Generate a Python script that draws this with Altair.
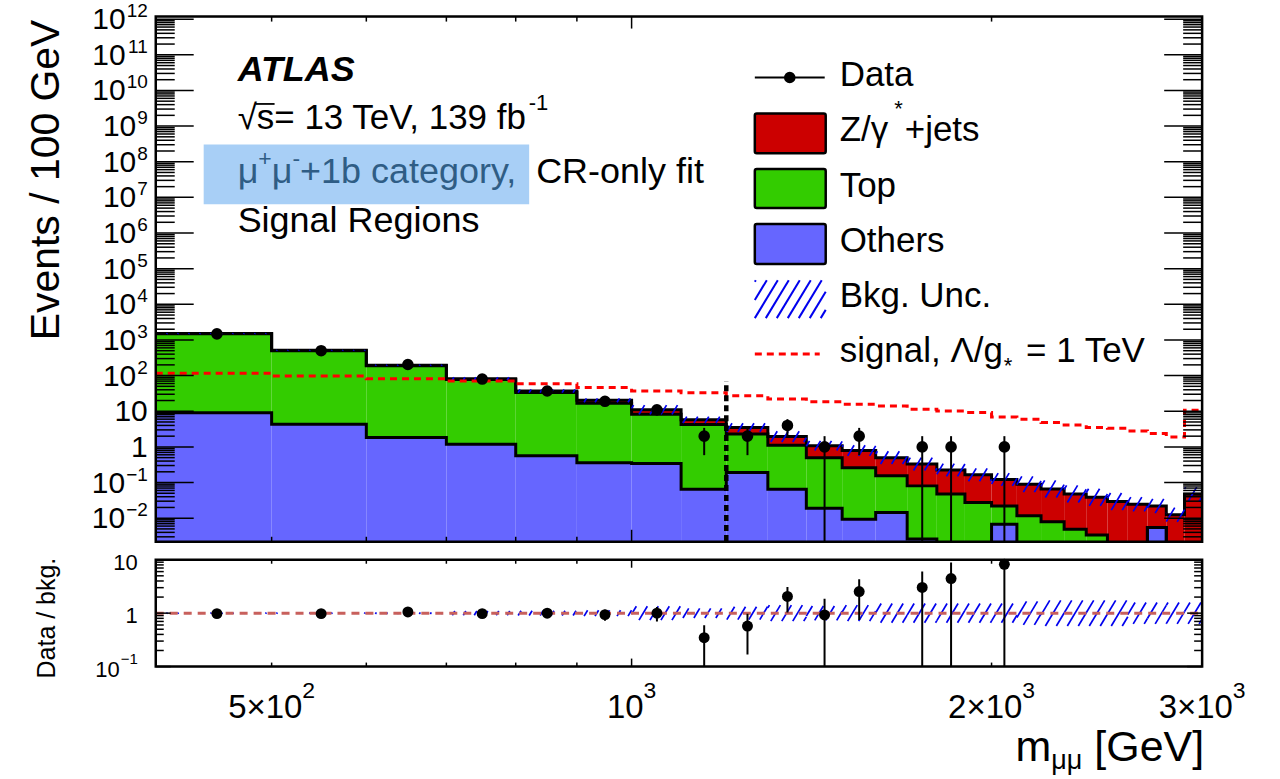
import numpy as np
import pandas as pd
import altair as alt

FONT = "Liberation Sans"

# ---------------- values ----------------
bin_edges = [400, 500, 600, 700, 800, 900, 1000, 1100, 1200, 1300, 1400, 1500, 1600, 1700,
             1800, 1900, 2000, 2100, 2200, 2300, 2400, 2500, 2600, 2700, 2800, 2900, 3000]

others = [9.1, 4.3, 1.82, 1.19, 0.56, 0.36, 0.34, 0.065, 0.19, 0.065, 0.019, 0.0094, 0.0145,
          0.0026, 0, 0, 0.0068, 0, 0, 0, 0, 0, 0, 0.0055, 0, 0]
top = [1476, 494, 186, 76, 33, 16.4, 7.9, 4.2, 2.1, 1.05, 0.48, 0.25, 0.14, 0.078, 0.048,
       0.0275, 0.015, 0.0117, 0.0079, 0.0049, 0.0034, 0.0012, 0.0006, 0, 0, 0]
zjets = [25, 12, 7, 4.5, 3.5, 3.5, 2.8, 1.5, 1.2, 0.83, 0.58, 0.53, 0.345, 0.25, 0.177,
         0.1375, 0.10, 0.078, 0.058, 0.043, 0.035, 0.028, 0.024, 0.0165, 0.0125, 0.047]
data_counts = [1480, 500, 205, 80, 37, 19, 11, 2, 2, 4, 1, 2, 0, 1, 1, 0, 1, 0, 0, 0, 0, 0, 0, 0, 0, 0]
signal = [116, 97, 82, 71, 59, 46, 37, 33, 27, 22, 18.6, 15.8, 14.1, 11.4, 10.2, 9.2, 6.9, 6.0,
          4.8, 4.1, 3.5, 3.35, 2.8, 2.36, 1.9, 10.7]
# half width of the background uncertainty band, in decades
bkg_unc_dex = [0.012, 0.012, 0.015, 0.04, 0.045, 0.055, 0.13, 0.09, 0.12, 0.15, 0.135, 0.15, 0.18,
               0.18, 0.18, 0.18, 0.18, 0.22, 0.24, 0.24, 0.24, 0.24, 0.2, 0.2, 0.2, 0.2]

sr_boundary = [1200.0]
sr_boundary_top = [70.0]

x_domain = [400, 3000]
y_domain_main = [0.00218, 1.18e12]
y_domain_ratio = [0.1, 10]

y_label_exps_main = list(range(-2, 13))
ratio_label_values = [0.1, 1, 10]
ratio_label_bases = ["10", "1", "10"]
ratio_label_exps = ["−1", "", ""]
x_major_ticks = [1000]
x_minor_ticks = [500, 600, 700, 800, 900, 2000]
x_label_ticks = [500, 1000, 2000, 3000]
x_label_bases = ["5×10", "10", "2×10", "3×10"]
x_label_exps = ["2", "3", "3", "3"]

comp_names = ["Others", "Top", "Z/γ*+jets"]
comp_colors = ["#6666ff", "#33cc00", "#cc0000"]

# ---------------- layout ----------------
W, H, H2, GAP = 1048, 526, 107, 18
PAD_L, PAD_T, PAD_R, PAD_B = 155, 15, 77, 113
FLOOR = 1e-6

xs = alt.Scale(type="log", domain=x_domain, nice=False)
ys = alt.Scale(type="log", domain=y_domain_main, nice=False)
yr = alt.Scale(type="log", domain=y_domain_ratio, nice=False)

ppd_x = W / np.log10(x_domain[1] / x_domain[0])
ppd_y = H / np.log10(y_domain_main[1] / y_domain_main[0])
ppd_yr = H2 / np.log10(y_domain_ratio[1] / y_domain_ratio[0])

ARIAL = {"0": 556, "1": 556, "2": 556, "3": 556, "4": 556, "5": 556, "6": 556, "7": 556, "8": 556,
         "9": 556, "×": 584, "−": 584, "-": 333, "+": 584, "=": 584, " ": 278, "/": 278, ",": 278,
         ".": 278, "[": 278, "]": 278, "*": 389, "μ": 576, "γ": 500, "Λ": 667, "√": 549,
         "A": 667, "B": 667, "C": 722, "D": 722, "E": 667, "G": 778, "L": 556, "O": 778, "R": 722,
         "S": 667, "T": 611, "U": 722, "V": 667, "Z": 611, "a": 556, "b": 556, "c": 500, "e": 556,
         "f": 278, "g": 556, "h": 556, "i": 222, "j": 222, "k": 500, "l": 222, "m": 833, "n": 556,
         "o": 556, "p": 556, "r": 333, "s": 500, "t": 278, "u": 556, "v": 500, "y": 500}


def tw(s, size):
    return sum(ARIAL.get(c, 556) for c in s) * size / 1000.0


one = pd.DataFrame({"k": [0]})


def vtext(txt, x, y, size, color="black", align="left", baseline="alphabetic",
          weight="normal", style="normal", angle=None):
    mk = dict(text=txt, align=align, baseline=baseline, fontSize=size, font=FONT, color=color,
              fontWeight=weight, fontStyle=style)
    if angle is not None:
        mk["angle"] = angle
    return alt.Chart(one).mark_text(**mk).encode(x=alt.value(x), y=alt.value(y))


def vrect(x0, x1, y0, y1, **kw):
    return alt.Chart(one).mark_rect(**kw).encode(
        x=alt.value(x0), x2=alt.value(x1), y=alt.value(y0), y2=alt.value(y1))


def vrule(x0, x1, y0, y1, **kw):
    return alt.Chart(one).mark_rule(**kw).encode(
        x=alt.value(x0), x2=alt.value(x1), y=alt.value(y0), y2=alt.value(y1))


lo_e = np.array(bin_edges[:-1], dtype=float)
hi_e = np.array(bin_edges[1:], dtype=float)
centers = 0.5 * (lo_e + hi_e)
o = np.array(others, float)
t = np.array(top, float)
z = np.array(zjets, float)
total = o + t + z
n = np.array(data_counts, float)


def hatch(center, dex, ppdy, spacing=11.0, slope=0.6):
    lx0 = np.log10(bin_edges[0])
    s = spacing / ppd_x
    rows = []
    for a, b, c, d in zip(lo_e, hi_e, center, dex):
        if c <= 0 or d <= 0:
            continue
        la, lb = np.log10(a), np.log10(b)
        y0, y1 = np.log10(c) - d, np.log10(c) + d
        dxd = slope * 2 * d * ppdy / ppd_x
        k0 = int(np.floor((la - dxd - lx0) / s))
        k1 = int(np.ceil((lb - lx0) / s))
        for k in range(k0, k1 + 1):
            tt = lx0 + k * s
            u0 = max(0.0, (la - tt) / dxd)
            u1 = min(1.0, (lb - tt) / dxd)
            if u1 - u0 <= 1e-9:
                continue
            rows.append({"xa": 10 ** (tt + u0 * dxd), "xb": 10 ** (tt + u1 * dxd),
                         "ya": 10 ** (y0 + u0 * (y1 - y0)), "yb": 10 ** (y0 + u1 * (y1 - y0))})
    return pd.DataFrame(rows)


def hatch_layer(df, yscale):
    return alt.Chart(df).mark_rule(color="#0000ee", strokeWidth=1.7, clip=True).encode(
        x=alt.X("xa:Q", scale=xs, axis=None), x2="xb:Q",
        y=alt.Y("ya:Q", scale=yscale, axis=None), y2="yb:Q")


def step_df(values, name):
    vals = list(values) + [values[-1]]
    return pd.DataFrame({"m": bin_edges, "v": [max(float(v), FLOOR) for v in vals], "level": name})


# ---------------- main panel ----------------
L1 = np.maximum(o, FLOOR)
L2 = np.maximum(o + t, FLOOR)
L3 = np.maximum(total, FLOOR)
fill_df = pd.concat([
    pd.DataFrame({"lo": lo_e, "hi": hi_e, "y0": FLOOR, "y1": L1, "comp": comp_names[0]}),
    pd.DataFrame({"lo": lo_e, "hi": hi_e, "y0": L1, "y1": L2, "comp": comp_names[1]}),
    pd.DataFrame({"lo": lo_e, "hi": hi_e, "y0": L2, "y1": L3, "comp": comp_names[2]}),
])
fills = alt.Chart(fill_df).mark_rect(clip=True, strokeWidth=0).encode(
    x=alt.X("lo:Q", scale=xs, axis=None), x2="hi:Q",
    y=alt.Y("y0:Q", scale=ys, axis=None), y2="y1:Q",
    color=alt.Color("comp:N", scale=alt.Scale(domain=comp_names, range=comp_colors), legend=None))

outline_df = pd.concat([step_df(L1, "a"), step_df(L2, "b"), step_df(L3, "c")])
outlines = alt.Chart(outline_df).mark_line(interpolate="step-after", clip=True, color="black",
                                           strokeWidth=3).encode(
    x=alt.X("m:Q", scale=xs, axis=None), y=alt.Y("v:Q", scale=ys, axis=None), detail="level:N")

hatch_main = hatch_layer(hatch(total, bkg_unc_dex, ppd_y), ys)

sig_line = alt.Chart(step_df(signal, "s")).mark_line(
    interpolate="step-after", clip=True, color="#ff0000", strokeWidth=3, strokeDash=[7, 5]).encode(
    x=alt.X("m:Q", scale=xs, axis=None), y=alt.Y("v:Q", scale=ys, axis=None))

sr_df = pd.DataFrame({"m": sr_boundary, "y0": [FLOOR], "y1": sr_boundary_top})
sr_line = alt.Chart(sr_df).mark_rule(color="black", strokeWidth=4.5, strokeDash=[6, 4], clip=True).encode(
    x=alt.X("m:Q", scale=xs, axis=None), y=alt.Y("y0:Q", scale=ys, axis=None), y2="y1:Q")

mask = n > 0
dmain = pd.DataFrame({"m": centers[mask], "n": n[mask],
                      "lo": np.maximum(n[mask] - np.sqrt(n[mask]), FLOOR),
                      "hi": n[mask] + np.sqrt(n[mask])})
d_err = alt.Chart(dmain).mark_rule(color="black", strokeWidth=2, clip=True).encode(
    x=alt.X("m:Q", scale=xs, axis=None), y=alt.Y("lo:Q", scale=ys, axis=None), y2="hi:Q")
d_pts = alt.Chart(dmain).mark_circle(color="black", size=135, opacity=1).encode(
    x=alt.X("m:Q", scale=xs, axis=None), y=alt.Y("n:Q", scale=ys, axis=None))

# ticks
ymaj = [10.0 ** k for k in range(-2, 13)]
ymin_t = [m * 10.0 ** k for k in range(-3, 12) for m in range(2, 10)
          if y_domain_main[0] < m * 10.0 ** k < y_domain_main[1]]


def ytick_layers(vals, scale, length, width_px):
    df = pd.DataFrame({"v": vals})
    return [
        alt.Chart(df).mark_rule(color="black", strokeWidth=1.5).encode(
            y=alt.Y("v:Q", scale=scale, axis=None), x=alt.value(0), x2=alt.value(length)),
        alt.Chart(df).mark_rule(color="black", strokeWidth=1.5).encode(
            y=alt.Y("v:Q", scale=scale, axis=None), x=alt.value(width_px - length), x2=alt.value(width_px)),
    ]


def xtick_layers(vals, length, height_px):
    df = pd.DataFrame({"v": vals})
    return [
        alt.Chart(df).mark_rule(color="black", strokeWidth=1.5).encode(
            x=alt.X("v:Q", scale=xs, axis=None), y=alt.value(height_px), y2=alt.value(height_px - length)),
        alt.Chart(df).mark_rule(color="black", strokeWidth=1.5).encode(
            x=alt.X("v:Q", scale=xs, axis=None), y=alt.value(0), y2=alt.value(length)),
    ]


main_ticks = (ytick_layers(ymaj, ys, 38, W) + ytick_layers(ymin_t, ys, 19, W)
              + xtick_layers(x_major_ticks, 12, H) + xtick_layers(x_minor_ticks, 5, H))


def ylabel(v, base, exp, xr, scale, bsize, esize, bdy, edy):
    df = pd.DataFrame({"v": [v]})
    ew = tw(exp, esize) + (1.0 if exp else 0.0)
    out = [alt.Chart(df).mark_text(text=base, align="right", baseline="middle", fontSize=bsize,
                                   font=FONT, color="black", dy=bdy).encode(
        x=alt.value(xr - ew), y=alt.Y("v:Q", scale=scale, axis=None))]
    if exp:
        out.append(alt.Chart(df).mark_text(text=exp, align="right", baseline="middle", fontSize=esize,
                                           font=FONT, color="black", dy=edy).encode(
            x=alt.value(xr), y=alt.Y("v:Q", scale=scale, axis=None)))
    return out


main_labels = []
for k in y_label_exps_main:
    if k == 0:
        b, e = "1", ""
    elif k == 1:
        b, e = "10", ""
    else:
        b, e = "10", (("−" + str(-k)) if k < 0 else str(k))
    main_labels += ylabel(10.0 ** k, b, e, -8, ys, 30, 19, 1, -8)

frame_main = vrect(0, W, 0, H, filled=False, stroke="black", strokeWidth=2.5)

# annotations
ann = []
ann.append(vtext("ATLAS", 82, 65, 36, weight="bold", style="italic"))
line2 = "√s= 13 TeV, 139 fb"
ann.append(vtext(line2, 82, 113, 35))
ann.append(vrule(100, 119, 87.5, 87.5, color="black", strokeWidth=1.8))
ann.append(vtext("-1", 82 + tw(line2, 35) - 5, 94, 22))
ann.append(vrect(48, 374, 128, 188, color="#a8cff6"))
HC = "#2f5d85"
cx = 82.0
for txt, sz, dy in [("μ", 36, 0), ("+", 23, -17), ("μ", 36, 0), ("-", 23, -17), ("+1b category,", 36, 0)]:
    ann.append(vtext(txt, cx, 167 + dy, sz, color=HC))
    cx += tw(txt, sz)
ann.append(vtext("CR-only fit", 381, 167, 36))
ann.append(vtext("Signal Regions", 82, 216, 36))

# legend
leg = []
LX0, LX1, LT = 600, 671, 685
leg.append(vrule(600, 670, 61, 61, color="black", strokeWidth=2))
leg.append(alt.Chart(one).mark_circle(color="black", size=135, opacity=1).encode(
    x=alt.value(635), y=alt.value(61)))
leg.append(vtext("Data", LT, 70, 35))
for (y0, y1), col in zip([(97, 137), (152.7, 191.7), (207.7, 247.7)], comp_colors[::-1]):
    leg.append(vrect(LX0, LX1, y0, y1, color=col, stroke="black", strokeWidth=2.5, cornerRadius=2))
leg.append(vtext("Z/γ", LT, 125, 35))
sx = LT + tw("Z/γ", 35) + 6
leg.append(vtext("*", sx, 100, 22))
leg.append(vtext("+jets", sx + tw("*", 22) + 2, 125, 35))
leg.append(vtext("Top", LT, 181, 35))
leg.append(vtext("Others", LT, 236, 35))
# hatched box of the legend
hy0, hy1, hdx, hsp = 302.0, 264.0, 23.0, 11.0
for k in range(-3, 8):
    xa = LX0 + k * hsp
    u0 = max(0.0, (LX0 - xa) / hdx)
    u1 = min(1.0, (LX1 - xa) / hdx)
    if u1 > u0:
        leg.append(vrule(xa + u0 * hdx, xa + u1 * hdx, hy0 + u0 * (hy1 - hy0), hy0 + u1 * (hy1 - hy0),
                         color="#0000ee", strokeWidth=2))
leg.append(vtext("Bkg. Unc.", LT, 291, 35))
leg.append(vrule(600, 665, 338, 338, color="#ff0000", strokeWidth=3, strokeDash=[7, 5]))
s1 = "signal, Λ/g"
leg.append(vtext(s1, LT, 346, 35))
sx = LT + tw(s1, 35) + 1
leg.append(vtext("*", sx, 357, 22))
leg.append(vtext("= 1 TeV", sx + tw("*", 22) + tw(" ", 35) + 4, 346, 35))

ytitle = vtext("Events / 100 GeV", -97, 3, 41, align="right", angle=270)

bounds_main = [vrect(-PAD_L, -PAD_L + 1, -PAD_T, -PAD_T + 1, color="white"),
               vrect(W + PAD_R - 1, W + PAD_R, -PAD_T, -PAD_T + 1, color="white")]

main = alt.layer(
    *bounds_main, fills, outlines, hatch_main, sig_line, sr_line, d_err, d_pts,
    *main_ticks, frame_main, *main_labels, ytitle, *ann, *leg
).properties(width=W, height=H)

# ---------------- ratio panel ----------------
hatch_r = hatch_layer(hatch(np.ones_like(total), bkg_unc_dex, ppd_yr), yr)
ref_line = alt.Chart(pd.DataFrame({"v": [1.0]})).mark_rule(
    color="#c8605c", strokeWidth=3, strokeDash=[8, 6]).encode(
    y=alt.Y("v:Q", scale=yr, axis=None), x=alt.value(0), x2=alt.value(W))

r = n[mask] / total[mask]
re = np.sqrt(n[mask]) / total[mask]
dr = pd.DataFrame({"m": centers[mask], "r": r, "lo": np.maximum(r - re, 1e-4), "hi": r + re})
r_err = alt.Chart(dr).mark_rule(color="black", strokeWidth=2, clip=True).encode(
    x=alt.X("m:Q", scale=xs, axis=None), y=alt.Y("lo:Q", scale=yr, axis=None), y2="hi:Q")
r_pts = alt.Chart(dr).mark_circle(color="black", size=120, opacity=1).encode(
    x=alt.X("m:Q", scale=xs, axis=None), y=alt.Y("r:Q", scale=yr, axis=None))

rmaj = [0.1, 1.0, 10.0]
rmin = [m * 10.0 ** k for k in (-1, 0) for m in range(2, 10)]
ratio_ticks = (ytick_layers(rmaj, yr, 15, W) + ytick_layers(rmin, yr, 8, W)
               + xtick_layers(x_major_ticks, 8, H2) + xtick_layers(x_minor_ticks, 4, H2))

ratio_labels = []
for v, b, e in zip(ratio_label_values, ratio_label_bases, ratio_label_exps):
    ratio_labels += ylabel(v, b, e, -18, yr, 22, 15, 3, -8)

xlabels = []
for v, b, e in zip(x_label_ticks, x_label_bases, x_label_exps):
    bw, ew = tw(b, 33), tw(e, 23)
    tot = bw + ew
    df = pd.DataFrame({"v": [v]})
    xlabels.append(alt.Chart(df).mark_text(text=b, align="left", baseline="middle", fontSize=33,
                                           font=FONT, color="black", dx=-tot / 2).encode(
        x=alt.X("v:Q", scale=xs, axis=None), y=alt.value(149)))
    xlabels.append(alt.Chart(df).mark_text(text=e, align="left", baseline="middle", fontSize=23,
                                           font=FONT, color="black", dx=-tot / 2 + bw).encode(
        x=alt.X("v:Q", scale=xs, axis=None), y=alt.value(131)))

frame_r = vrect(0, W, 0, H2, filled=False, stroke="black", strokeWidth=2.5)
rtitle = vtext("Data / bkg.", -101, -2, 25, align="right", angle=270)
XT = 43
gx = W + 2 - tw("[GeV]", XT)
xt = [vtext("[GeV]", W + 2, 202, XT, align="right")]
sub_x1 = gx - tw(" ", XT)
sub_x0 = sub_x1 - tw("μμ", 27)
xt.append(vtext("μμ", sub_x0, 210, 27))
xt.append(vtext("m", sub_x0, 202, XT, align="right"))

bounds_r = [vrect(-PAD_L, -PAD_L + 1, H2 + PAD_B - 1, H2 + PAD_B, color="white"),
            vrect(W + PAD_R - 1, W + PAD_R, H2 + PAD_B - 1, H2 + PAD_B, color="white")]

ratio = alt.layer(
    *bounds_r, hatch_r, ref_line, r_err, r_pts, *ratio_ticks, frame_r, *ratio_labels,
    *xlabels, rtitle, *xt
).properties(width=W, height=H2)

chart = alt.vconcat(main, ratio, spacing=GAP, bounds="flush").properties(
    padding=0, background="white"
).configure_view(strokeWidth=0).configure(font=FONT)

chart.save("out.html", embed_options={"renderer": "svg", "actions": False})
